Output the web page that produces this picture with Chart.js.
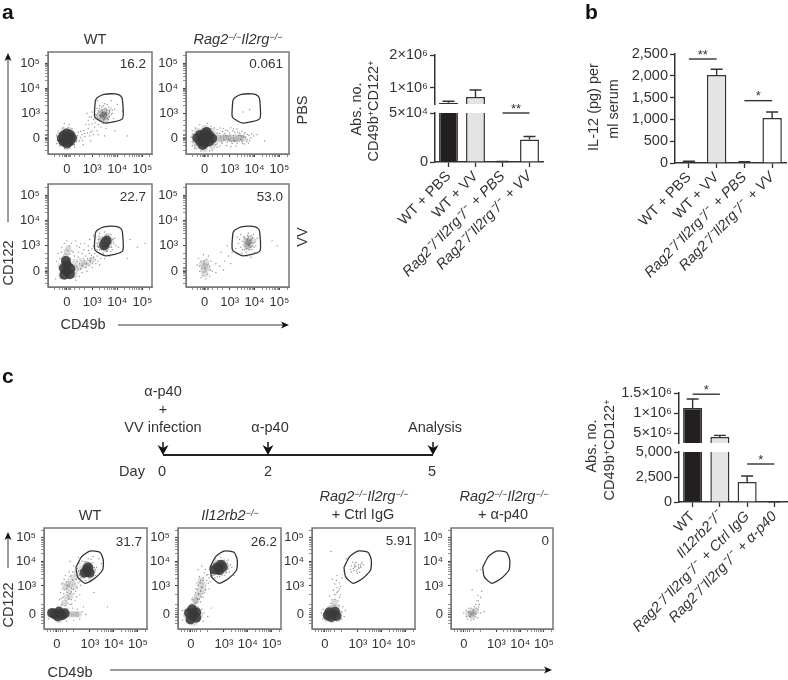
<!DOCTYPE html>
<html><head><meta charset="utf-8">
<style>
html,body{margin:0;padding:0;background:#fff;width:788px;height:680px;overflow:hidden}
canvas{position:absolute;left:0;top:0;pointer-events:none}
svg{position:absolute;left:0;top:0}
.t{position:absolute;white-space:nowrap;font-family:"Liberation Sans",Arial,sans-serif;color:#333;font-size:14.5px;line-height:1;transform:translate(-50%,-50%)}
.t sup{font-size:.62em;line-height:0;vertical-align:baseline;position:relative;top:-.45em}
.r{transform:translate(-100%,-50%);font-size:13.5px}
.v{transform:translate(-50%,-50%) rotate(-90deg)}
.L{transform:none;font-weight:bold;font-size:21px;color:#111}
</style>
<script src="https://cdn.jsdelivr.net/npm/chart.js@4/dist/chart.umd.min.js"></script>
</head><body>
<svg id="ov" width="788" height="680"></svg>
<script>
// ---------- flow-plot tick positions and labels ----------
const aMajor=[0,1,2,3];
const cMajorX=[0,1.37,2.37,3.37];
const cMajorY=[0,1.17,2.2,3.17];
const flowTickLabels=['0','10³','10⁴','10⁵'];
const aMinor=[-0.5,-0.3,-0.16,-0.1,-0.05,0.05,0.1,0.16,0.3,0.5,0.7,1.3,1.48,1.6,1.7,1.78,1.85,1.9,1.95,2.3,2.48,2.6,2.7,2.78,2.85,2.9,2.95,3.3];
const cMinorX=[-0.4,-0.25,-0.15,-0.08,0.08,0.15,0.25,0.4,0.7,1.67,1.85,1.97,2.07,2.15,2.22,2.28,2.33,2.67,2.85,2.97,3.07,3.15,3.22,3.28,3.33,3.67];
const cMinorY=[-0.4,-0.25,-0.15,-0.08,0.08,0.15,0.25,0.4,0.8,1.47,1.65,1.77,1.87,1.95,2.02,2.08,2.14,2.5,2.68,2.8,2.9,2.98,3.05,3.11,3.47];
// ---------- gates ----------
const gateA=[[1.13,1.52],[1.2,1.62],[1.47,1.75],[1.93,1.77],[2.15,1.68],[2.21,1.5],[2.21,0.79],[1.53,0.61],[1.11,0.85],[1.13,1.52]];
const gateC=[[0.79,1.94],[1.03,2.39],[1.37,2.62],[1.79,2.57],[1.93,2.25],[1.9,1.83],[1.58,1.49],[1.17,1.28],[0.86,1.55],[0.79,1.94]];
// ---------- panel a, flow plots ----------
const a1Core=[[-0.2,0],[0.2,0.02],[0,0.2],[0,-0.2],[-0.12,0.12],[0.12,-0.12],[0.12,0.14],[-0.14,-0.12],[0,0]];
const a1Mid=[[-0.3,0.12],[0.3,-0.05],[0.1,0.33],[-0.12,0.32],[0,-0.33],[1.45,0.95],[1.55,0.85],[1.4,0.8],[1.5,1.05],[1.35,1],[1.6,1.05],[1.47,0.92],[1.3,0.85],[1.55,0.75],[1.48,0.9],[1.42,0.98]];
const a1Speck=[[0.4,0.05],[0.5,-0.1],[0.6,0.15],[0.45,0.25],[-0.35,0.3],[-0.4,-0.2],[0.3,-0.35],[0.1,0.55],[-0.1,0.6],[0.7,0.2],[0.9,0.1],[1,0.3],[0.85,0.4],[1.1,0.45],[1.2,0.3],[1.25,0.55],[1.05,0.75],[0.9,0.85],[0.8,1],[1,1.05],[1.15,0.95],[1.2,1.2],[1.3,1.3],[1.45,1.3],[1.6,1.35],[1.75,1.2],[1.8,1],[1.9,1.15],[1.7,0.85],[1.85,0.8],[1.3,0.7],[1.45,0.6],[1.6,0.65],[1.35,0.45],[1.55,0.4],[0.95,-0.1],[1.5,0.1],[1.9,0.3],[2.4,0.1],[2.2,1.1],[1.2,1.5],[1.75,1.5],[2,1.35],[0.65,-0.25],[1.25,0.15],[0.75,0.55],[1.25,1.1],[1.3,0.9],[1.7,1.05],[1.65,0.75],[1.4,1.15],[1.55,1.2],[1.2,0.8],[1.1,1.1],
[1.2,0.85],[1.28,0.78],[1.33,0.92],[1.38,0.72],[1.42,0.88],[1.46,0.7],[1.5,0.78],[1.52,0.98],[1.58,0.92],[1.62,0.8],[1.66,0.98],[1.7,1.12],[1.58,1.12],[1.48,1.18],[1.36,1.12],[1.28,1.05],[1.22,1],[1.42,1.02],[1.34,0.84],[1.56,1.02],[1.44,0.76],[1.68,0.88],[1.76,0.95],[1.8,1.12],[1.5,1.38],[1.65,1.25],[1.38,1.25],[1.3,1.18],[1.18,0.92],[1.12,0.78],[-0.42,0.1],[-0.38,-0.08],[-0.3,0.2],[-0.28,-0.3],[-0.15,0.42],[0.05,0.45],[0.2,0.38],[0.32,0.22],[0.38,-0.12],[0.3,-0.25],[0.12,-0.38],[-0.1,-0.4],[0.42,0.12],[0.55,0.02],[0.62,-0.08],[0.72,0.08],[0.55,0.28],[0.68,0.32],[0.82,0.22],[0.95,0.25],[1.05,0.15],[0.88,0.55],[1,0.58],[1.12,0.62],[0.98,0.85],[0.85,0.72]];
const a2Core=[[-0.3,0.02],[-0.18,0.14],[-0.18,-0.12],[0,0.2],[0,-0.18],[0.18,0.12],[0.18,-0.12],[0.3,0],[0,0],[0.08,0.26],[-0.08,-0.26]];
const a2Mid=[[-0.42,0.08],[-0.38,-0.18],[0.42,0.12],[0.42,-0.15],[0,0.42],[0,-0.42],[0.55,0.02],[0.65,-0.05],[0.75,0.05],[0.85,0],[0.95,0.03],[1.05,0.02],[1.15,-0.04],[1.25,-0.02],[1.35,0.04],[1.45,0.02],[1.55,0],[-0.3,0.3],[0.3,0.3],[0.3,-0.32],[-0.3,-0.32]];
const a2Speck=[[0.6,0.2],[0.7,-0.2],[0.8,0.2],[0.9,-0.15],[1,0.22],[1.1,-0.2],[1.2,0.25],[1.3,-0.2],[1.4,0.22],[1.5,-0.12],[1.55,0.1],[1.65,0.05],[1.7,-0.05],[1.78,0.12],[1.85,0.02],[1.6,-0.22],[1.5,0.28],[1.95,0.1],[2.1,0.15],[0.5,0.35],[0.5,-0.35],[-0.5,0.3],[-0.5,-0.3],[-0.2,0.55],[0.1,0.6],[0.2,-0.5],[-0.15,-0.5],[0.75,0.4],[1.05,0.42],[1.3,0.38],[1.8,1.15],[1.55,1.05],[2.4,-0.1],[0.9,0.1],[1.15,0.12],[1.35,0.12],[1.2,-0.08],[1,-0.1],[0.75,0.1],[1.45,-0.05],[1.6,0.18],[1.75,-0.18],
[0.62,0.1],[0.68,-0.12],[0.72,0.28],[0.78,-0.06],[0.84,0.12],[0.88,-0.28],[0.92,0.3],[0.96,-0.05],[1.02,0.14],[1.06,-0.12],[1.12,0.3],[1.16,-0.1],[1.22,0.14],[1.28,-0.1],[1.32,0.25],[1.38,-0.12],[1.42,0.14],[1.48,0.1],[1.52,-0.2],[1.58,0.06],[1.62,0.24],[1.68,-0.12],[1.72,0.16],[1.8,-0.08],[1.88,0.18],[-0.55,0.05],[-0.5,-0.12],[-0.48,0.18],[0.5,0.22],[0.45,-0.25],[0.6,-0.3],[0.4,0.42],[-0.38,0.42],[-0.4,-0.4],[0.25,0.48],[0.3,-0.48],[0.85,0.34],[1.15,0.38],[1.25,-0.3],[1.05,-0.32],[0.62,0.42]];
const a3Core=[[-0.02,0],[0.12,-0.12],[-0.12,0.12],[0,0.25],[-0.1,-0.14],[0.14,0.1],[-0.04,0.4],[1.52,1.12],[1.58,1.2],[1.48,1.02]];
const a3Mid=[[1.5,1.15],[1.68,1.05],[1.38,1],[1.6,1.38],[1.35,1.22],[1.72,1.25],[1.55,0.88],[1.3,1.05],[-0.05,0.58],[0,0.75],[-0.12,0.48],[0.35,0.05],[0.5,0.15],[0.7,0.25],[0.85,0.35],[1,0.45],[0.6,0.35],[0.3,0.3],[1.53,1.25],[1.42,1.12],[0.05,0.9],[-0.25,0.2],[-0.22,-0.2],[0.3,-0.15]];
const a3Speck=[[-0.4,0.4],[-0.35,0.7],[-0.2,0.95],[-0.1,1.1],[0.1,1],[0.2,0.8],[0.3,0.6],[0.45,0.55],[0.6,0.7],[0.75,0.6],[0.9,0.7],[1,0.9],[0.85,1],[0.7,1.1],[0.5,0.95],[0.35,1.2],[0.9,1.25],[1.05,1.4],[1.2,0.6],[1.35,0.5],[1.15,0.3],[1,0.15],[0.8,0],[0.6,-0.05],[1.3,0.25],[1.5,0.5],[1.7,0.6],[1.8,0.85],[1.95,1],[1.9,1.3],[1.75,1.45],[1.5,1.55],[1.3,1.5],[1.15,1.35],[1.2,1.1],[1.3,0.85],[1.6,0.8],[1.75,1.1],[2.05,0.95],[2.5,1.25],[2.8,0.95],[3.1,1.1],[2.4,0.5],[-0.45,-0.3],[0.35,-0.35],[0.5,-0.2],[0.4,0.45],[0.15,0.5],[1.1,0.7],[1.05,1],[1.25,1.25],[1.85,1.15],[1.65,1.4],[1.4,1.35],[1.7,0.95],[1.25,0.95],[0.65,0.5],[0.95,0.5],[0.5,0.3],[0.75,0.15],[0.25,0.75],[0.45,0.75],
[0.2,0.25],[0.28,0.45],[0.38,0.2],[0.42,0.38],[0.55,0.1],[0.52,0.48],[0.62,0.22],[0.7,0.42],[0.78,0.3],[0.82,0.5],[0.88,0.22],[0.92,0.42],[1.02,0.3],[1.06,0.55],[1.14,0.45],[1.24,0.4],[0.98,0.62],[0.86,0.82],[0.68,0.85],[0.55,1.08],[0.4,1],[0.18,1.1],[0,1.2],[-0.22,0.75],[-0.28,0.5],[0.12,0.68],[1.22,0.98],[1.32,1.28],[1.38,0.85],[1.44,0.72],[1.5,1.3],[1.58,0.78],[1.62,0.98],[1.68,1.32],[1.78,0.95],[1.82,1.25],[1.45,0.9],[1.36,1.15],[1.64,1.12],[1.56,1.42],[1.28,1.38],[1.74,0.78],[1.46,0.66],[1.88,1.08],[1.2,0.85]];
const a4Core=[];
const a4Mid=[[0,0.2],[-0.05,0.05],[0.05,0.35],[-0.1,0.3],[0.1,0.12],[1.75,1.15],[1.85,1.05],[1.7,1],[1.8,1.3],[1.65,1.2],[1.75,0.95],[1.95,1.2],[0,-0.1],[1.78,1.2],[1.72,1.1]];
const a4Speck=[[-0.3,0.25],[-0.25,0.5],[0.25,0.4],[0.3,0],[0.2,-0.2],[-0.15,-0.25],[0.05,-0.3],[-0.05,0.65],[0.15,0.6],[0.45,0.3],[0.6,0.2],[0.8,0.4],[0.95,0.6],[1.1,0.75],[1.25,0.9],[1.35,1.1],[1.3,1.35],[1.45,1.45],[1.55,1.35],[1.6,0.85],[1.5,0.7],[1.7,0.6],[1.85,0.55],[2,0.75],[2.05,1],[2.1,1.3],[1.95,1.45],[1.75,1.5],[1.55,1.05],[1.45,0.95],[1.9,0.85],[2,1.15],[1.6,1.35],[1.85,1.4],[1.65,0.75],[2.7,1.2],[2.9,1],[0.75,0.05],[1.05,0.3],[0.9,1],[0.65,0.75],[0.45,-0.05],[-0.2,0],[0.2,0.2],[-0.15,0.4],[1.7,1.25],[1.8,1.1],[1.9,1],[1.6,1.15],[1.75,1.35],
[1.5,1.18],[1.58,0.98],[1.62,1.28],[1.68,0.9],[1.72,1.42],[1.78,0.85],[1.82,1.22],[1.88,1.12],[1.92,1.32],[1.98,0.95],[1.66,1.08],[1.76,1.02],[1.84,0.95],[1.4,1.25],[1.52,0.85],[-0.12,0.12],[0.14,0.28],[0.22,0.05],[-0.2,0.2],[0.08,0.48],[-0.08,-0.18],[0.12,-0.12],[-0.02,0.42]];
// ---------- panel c, flow plots ----------
const c1Core=[[-0.1,0],[0.08,0.1],[0.22,-0.05],[0.03,-0.1],[-0.2,0.05],[0.32,0.03],[0.12,0],[1.24,1.85],[1.36,1.72],[1.15,1.72],[1.3,1.95],[1.26,1.78]];
const c1Mid=[[0.42,0],[0.55,-0.02],[0.68,0],[0.8,-0.02],[0.9,0],[-0.28,0],[0.1,0.25],[0.1,-0.25],[1.02,1.9],[1.48,1.85],[1.06,1.62],[1.42,1.52],[1.2,2.08],[0.82,1.7],[0.4,0.7],[0.5,1],[0.6,1.3],[0.35,1.15],[0.7,1.5],[0.3,0.45],[0.45,1.25],[0.55,0.75],[0.72,1.15]];
const c1Speck=[[0.2,0.4],[0.25,0.7],[0.15,0.9],[0.3,1],[0.45,0.45],[0.6,0.6],[0.7,0.85],[0.55,0.85],[0.4,1.35],[0.55,1.55],[0.3,1.45],[0.85,1.1],[0.95,1.35],[0.75,1.3],[0.85,1.9],[0.95,2.1],[0.7,2],[1.05,2.2],[1.3,2.3],[1.5,2.15],[1.65,1.95],[1.6,1.6],[1.4,1.35],[1.2,1.4],[1,1.5],[0.5,1.75],[0.35,1.6],[0.2,1.25],[0.1,0.6],[0.65,0.25],[0.85,0.2],[1.05,0.1],[1.2,-0.02],[1.1,0.3],[0.95,-0.2],[0.7,-0.25],[0.4,-0.3],[0.45,0.25],[-0.35,0.15],[-0.35,-0.2],[0.6,1.1],[0.45,1.2],[0.25,1.3],[0.65,1.75],[0.95,0.8],[0.75,0.55],[1.75,2.3],[1.85,2.1],[1.5,2.4],[0.9,2.35],[0.55,2.2],[2.1,0.3],[1.55,0.9],[0.35,0.35],[0.55,0.4],
[0.28,0.85],[0.38,0.55],[0.42,0.9],[0.5,0.62],[0.52,1.15],[0.6,0.92],[0.65,1.42],[0.68,1.02],[0.78,0.95],[0.8,1.45],[0.88,1.3],[0.92,1.6],[0.98,1.2],[0.58,1.62],[0.48,1.45],[0.38,1.05],[0.22,1.05],[0.18,0.65],[0.62,0.42],[0.82,0.72],[1.02,1.78],[1.1,2.02],[1.18,2.18],[1.4,2.08],[1.55,1.95],[1.58,1.75],[1.5,1.6],[1.3,1.55],[1.12,1.5],[0.95,1.65],[0.9,1.8],[1.6,1.85],[1.42,2.28],[1.22,2.02],[1.38,1.98]];
const c2Core=[[0.08,-0.07],[-0.08,0.05],[0.22,0.08],[0.05,0.2],[0.22,-0.15],[-0.02,-0.22],[0.1,0.02],[1.1,1.95],[1.25,2.05],[1,1.85],[1.18,1.82],[1.32,1.95]];
const c2Mid=[[-0.2,-0.05],[0.38,-0.05],[0.1,0.36],[0.12,-0.35],[0.22,0.55],[0.35,0.9],[0.4,1.2],[0.95,1.72],[1.42,2.12],[1.38,1.8],[1.02,2.15],[1.48,1.98],[0.5,1.05],[0.3,0.75],[0.42,1.4],[0.15,0.62]];
const c2Speck=[[0.3,0.3],[0.45,0.2],[0.55,0.05],[0.7,-0.1],[0.4,0.5],[0.5,0.7],[0.55,0.9],[0.6,1.2],[0.65,1.4],[0.5,1.4],[0.35,1.55],[0.25,1.3],[0.2,1.05],[0.15,0.8],[0.05,0.6],[0.75,1.05],[0.8,1.35],[0.7,1.65],[0.6,1.85],[0.45,2],[0.3,1.85],[0.85,2],[0.95,2.1],[1,2.3],[1.25,2.35],[1.55,2.25],[1.65,2.05],[1.6,1.75],[1.4,1.6],[1.2,1.55],[1,1.5],[0.9,1.6],[1.7,1.95],[1.8,1.6],[-0.35,0.15],[-0.35,-0.25],[0.5,-0.3],[0.85,0.25],[0.3,1.05],[0.4,0.95],[0.5,1.25],[0.62,1],[0.4,1.4],[0.75,1.5],[0.2,0.45],[0.28,0.62],
[0.18,0.9],[0.25,0.5],[0.32,0.85],[0.35,0.62],[0.42,0.72],[0.45,1.12],[0.48,0.85],[0.52,1.5],[0.58,1.3],[0.3,1.2],[0.25,1.02],[0.38,1.3],[0.92,1.85],[0.88,1.72],[1.05,2.05],[1.12,1.68],[1.22,1.7],[1.3,2.18],[1.12,2.22],[1.38,2.25],[1.5,2.1],[1.55,1.88],[1.48,1.72],[1.3,1.62],[1.1,1.55],[0.78,1.85],[0.82,1.58],[0.65,1.62],[0.55,1.72],[0.72,1.28]];
const c3Core=[[0.3,0],[0.42,0.1],[0.18,0.08],[0.48,-0.08],[0.26,-0.12],[0.36,-0.02],[0.12,-0.06]];
const c3Mid=[[0.02,0],[0.6,0.02],[0.35,0.28],[0.3,-0.25],[0.22,0.25],[0.48,0.28],[0.4,0.48],[0.55,-0.2],[0.08,-0.2]];
const c3Speck=[[0.7,0.1],[0.8,-0.1],[-0.08,0.2],[-0.1,-0.2],[0.6,0.35],[0.55,0.55],[0.3,0.6],[0.45,0.8],[0.35,1],[0.5,1.1],[0.6,1.3],[0.4,1.25],[0.3,1.45],[0.55,0.95],[0.65,0.8],[0.7,1.5],[0.5,1.6],[0.8,1.75],[1.1,2],[1.25,1.95],[1.4,2.05],[1.35,1.85],[1.2,1.8],[1.5,1.95],[1.55,2.15],[1.3,2.15],[1.15,2.15],[1.45,1.75],[1.05,1.85],[1.6,2.05],[1.3,2],[1.4,1.95],[0.9,2.3],[0.25,2.6],[0.6,0.7],[1.25,2.08],[1.5,2.08],[1.35,1.7],[0.2,0.75],[0.75,0.3],[0.42,0.62],[0.5,0.9],[0.38,0.82],[0.6,1.05],[0.48,1.4],[0.65,1.15],[0.25,0.45],[0.7,-0.2],[0.85,0.15],[-0.15,0.05],[1.18,1.9],[1.32,1.78],[1.42,1.9],[1.48,2],[1.22,2],[1.1,1.75]];
const c4Core=[];
const c4Mid=[[0.3,0],[0.42,0.03],[0.2,0],[0.5,0.12],[0.35,-0.08],[0.32,0.12]];
const c4Speck=[[0,0.05],[0.1,-0.1],[0.1,0.15],[0.6,0.2],[0.7,0.05],[0.5,0.4],[0.55,0.55],[0.7,0.7],[0.45,0.3],[0.3,0.25],[0.6,-0.15],[0.3,-0.25],[0.2,0.25],[0.65,0.4],[0.75,0.95],[0.35,1],[0.55,1.8],[0.7,1.85],[0.62,0.3],[0.85,0.1],[0.15,-0.2],[0.42,-0.22],[0.5,-0.12],[0.62,0.55],[0.58,0.78],[0.18,0.1],[0.25,-0.12],[0.4,0.18],[0.52,0.25],[0.48,0.02]];
// ---------- bar charts ----------
const catAB=['WT + PBS','WT + VV','Rag2⁻/⁻Il2rg⁻/⁻\u2002+ PBS','Rag2⁻/⁻Il2rg⁻/⁻\u2002+ VV'];
const catC=['WT','Il12rb2⁻/⁻','Rag2⁻/⁻Il2rg⁻/⁻\u2002+ Ctrl IgG','Rag2⁻/⁻Il2rg⁻/⁻\u2002+ α-p40'];
const barFill=['#231f20','#e4e4e4','#ffffff','#ffffff'];
const aValues=[550000,730000,300,23000];
const aErrors=[600000,940000,500,26000];
const aLowTicks=[0,50000],aLowLabels=['0','5×10⁴'];
const aHighTicks=[1000000,2000000],aHighLabels=['1×10⁶','2×10⁶'];
const bValues=[25,2020,20,1030];
const bErrors=[40,2150,32,1170];
const bTicks=[0,500,1000,1500,2000,2500],bLabels=['0','500','1,000','1,500','2,000','2,500'];
const cValues=[1125000,400000,2000,20];
const cErrors=[1350000,440000,2600,30];
const cLowTicks=[0,2500,5000],cLowLabels=['0','2,500','5,000'];
const cHighTicks=[500000,1000000,1500000],cHighLabels=['5×10⁵','1×10⁶','1.5×10⁶'];

const FONT='"Liberation Sans",Arial,sans-serif',INK='#333',GREY='#777';
const W=788,H=680;
function canvas(){const c=document.createElement('canvas');c.width=W;c.height=H;document.body.appendChild(c);return c;}
const framePlugin={id:'frame',afterDraw(ch){const a=ch.chartArea,x=ch.ctx;x.save();x.strokeStyle=GREY;x.lineWidth=1.5;x.strokeRect(a.left,a.top,a.right-a.left,a.bottom-a.top);x.restore();}};
function flow(L,R,T,B,xr,yr,xMajor,yMajor,xMinor,yMinor,gate,core,mid,speck){
 const sc=(r,maj,min,pos)=>({type:'linear',min:r[0],max:r[1],
  afterBuildTicks(s){s.ticks=[...maj,...min].sort((p,q)=>p-q).map(v=>({value:v}));},
  afterFit(s){if(pos==='x'){s.height=26;s.paddingLeft=0;s.paddingRight=0;}else{s.width=40;s.paddingTop=0;s.paddingBottom=0;}},
  border:{color:GREY,width:1},
  grid:{drawOnChartArea:false,drawTicks:true,tickLength:3,tickColor:'#444',tickWidth:c=>maj.includes(c.tick.value)?1.1:.6},
  ticks:{autoSkip:false,maxRotation:0,minRotation:0,padding:5,color:INK,font:{family:FONT,size:13},
   callback:v=>{const i=maj.indexOf(v);return i<0?'':flowTickLabels[i];}}});
 new Chart(canvas(),{type:'scatter',plugins:[framePlugin],
  data:{datasets:[
   {data:mid,pointRadius:3.2,pointBorderWidth:0,pointBackgroundColor:'rgba(80,80,80,.2)'},
   {data:core,pointRadius:5,pointBorderWidth:0,pointBackgroundColor:'rgba(58,58,58,.9)'},
   {data:speck,pointRadius:.7,pointBorderWidth:0,pointBackgroundColor:'rgba(70,70,70,.6)'},
   {data:gate,showLine:true,pointRadius:0,borderColor:'#333',borderWidth:1.3,tension:.2,fill:false}]},
  options:{responsive:false,animation:false,events:[],
   layout:{padding:{left:L-40,right:W-R,top:T,bottom:H-B-26}},
   plugins:{legend:{display:false},tooltip:{enabled:false}},
   scales:{x:sc(xr,xMajor,xMinor,'x'),y:sc(yr,yMajor,yMinor,'y')}}});
}
const errSig={id:'errSig',afterDatasetsDraw(ch,_,o){const x=ch.ctx,xs=ch.scales.x,ys=ch.scales.y;x.save();x.strokeStyle=INK;x.lineWidth=1.4;
 (o.errors||[]).forEach((e,i)=>{const v=o.values[i];if(e>ys.max||v<ys.min)return;const px=xs.getPixelForValue(i),p0=ys.getPixelForValue(v),p1=ys.getPixelForValue(e);
  x.beginPath();x.moveTo(px,p0);x.lineTo(px,p1);x.moveTo(px-6,p1);x.lineTo(px+6,p1);x.stroke();});
 (o.sig||[]).forEach(s=>{const a=xs.getPixelForValue(s[0]),b=xs.getPixelForValue(s[1]),p=ys.getPixelForValue(s[2]);
  x.beginPath();x.moveTo(a,p);x.lineTo(b,p);x.stroke();
  x.fillStyle=INK;x.font='13px '+FONT;x.textAlign='center';x.textBaseline='middle';x.fillText(s[3],(a+b)/2,p-4);});
 x.restore();}};
function bar(L,R,T,B,cats,values,errors,min,max,ticks,labels,showX,sig){
 new Chart(canvas(),{type:'bar',plugins:[errSig],
  data:{labels:cats,datasets:[{data:values,backgroundColor:barFill,borderColor:'#333',borderWidth:1.5,barPercentage:.7,categoryPercentage:1}]},
  options:{responsive:false,animation:false,events:[],
   layout:{padding:{left:L-60,right:W-R,top:T,bottom:H-B-(showX?150:0)}},
   plugins:{legend:{display:false},tooltip:{enabled:false},errSig:{values,errors,sig}},
   scales:{
    x:{display:showX,offset:true,border:{color:INK,width:1.5},
     afterFit(s){s.height=showX?150:0;s.paddingLeft=0;s.paddingRight=0;},
     grid:{drawOnChartArea:false,offset:false,tickLength:5,tickColor:INK,tickWidth:1.3},
     ticks:{autoSkip:false,minRotation:46,maxRotation:46,padding:1,color:INK,
      font:c=>({family:FONT,size:14.5,style:/⁻/.test(cats[c.index])?'italic':'normal'})}},
    y:{min,max,border:{color:INK,width:1.5},
     afterBuildTicks(s){s.ticks=ticks.map(v=>({value:v}));},
     afterFit(s){s.width=60;s.paddingTop=0;s.paddingBottom=0;},
     grid:{drawOnChartArea:false,tickLength:5,tickColor:INK,tickWidth:1.3},
     ticks:{autoSkip:false,padding:2,color:INK,font:{family:FONT,size:14.5},callback:v=>labels[ticks.indexOf(v)]}}}}});
}
const AX=[-0.75,3.38],AY=[-0.62,3.44],CX=[-0.54,3.75],CY=[-0.62,3.58];
flow(48,152,52,154,AX,AY,aMajor,aMajor,aMinor,aMinor,gateA,a1Core,a1Mid,a1Speck);
flow(186,289,52,154,AX,AY,aMajor,aMajor,aMinor,aMinor,gateA,a2Core,a2Mid,a2Speck);
flow(48,152,184,287,AX,AY,aMajor,aMajor,aMinor,aMinor,gateA,a3Core,a3Mid,a3Speck);
flow(186,289,184,287,AX,AY,aMajor,aMajor,aMinor,aMinor,gateA,a4Core,a4Mid,a4Speck);
flow(44,147,528,629,CX,CY,cMajorX,cMajorY,cMinorX,cMinorY,gateC,c1Core,c1Mid,c1Speck);
flow(178,281,528,629,CX,CY,cMajorX,cMajorY,cMinorX,cMinorY,gateC,c2Core,c2Mid,c2Speck);
flow(312,415,528,629,CX,CY,cMajorX,cMajorY,cMinorX,cMinorY,gateC,c3Core,c3Mid,c3Speck);
flow(451,553,528,629,CX,CY,cMajorX,cMajorY,cMinorX,cMinorY,gateC,c4Core,c4Mid,c4Speck);
bar(435,543,113,162,catAB,aValues,aErrors,0,50000,aLowTicks,aLowLabels,true,[[2,3,50000,'**']]);
bar(435,543,55,104,catAB,aValues,aErrors,515000,2000000,aHighTicks,aHighLabels,false,[]);
bar(675,786,54,163,catAB,bValues,bErrors,0,2500,bTicks,bLabels,true,[[0,1,2385,'**'],[2,3,1430,'*']]);
bar(679,788,452,502,catC,cValues,cErrors,0,5000,cLowTicks,cLowLabels,true,[[2,3,3800,'*']]);
bar(679,788,393,443,catC,cValues,cErrors,250000,1500000,cHighTicks,cHighLabels,false,[[0,1,1470000,'*']]);

// ---------- annotation text ----------
const RG='<i>Rag2<sup>−/−</sup>Il2rg<sup>−/−</sup></i>';
const textItems=[
 ['L',2,1,'a'],['L',585,1,'b'],['L',2,365,'c'],
 ['',95,39,'WT'],['',238,39,RG],['v',302,110,'PBS'],['v',302,237,'VV'],['v',8,263,'CD122'],['',83,324,'CD49b'],
 ['r',146,64,'16.2'],['r',283,64,'0.061'],['r',146,197,'22.7'],['r',283,197,'53.0'],
 ['v',356,109,'Abs. no.'],['v',373,111,'CD49b<sup>+</sup>CD122<sup>+</sup>'],
 ['v',593,107,'IL-12 (pg) per'],['v',613,109,'ml serum'],
 ['',132,471,'Day'],['',162,471,'0'],['',268,471,'2'],['',432,471,'5'],
 ['',163,391,'α-p40'],['',163,409,'+'],['',163,427,'VV infection'],['',270,427,'α-p40'],['',435,427,'Analysis'],
 ['',90,515,'WT'],['',230,515,'<i>Il12rb2<sup>−/−</sup></i>'],['',364,496,RG],['',363,514,'+ Ctrl IgG'],['',504,496,RG],['',503,514,'+ α-p40'],
 ['r',142,542,'31.7'],['r',277,542,'26.2'],['r',412,541,'5.91'],['r',549,541,'0'],
 ['v',8,605,'CD122'],['',70,672,'CD49b'],
 ['v',591,446,'Abs. no.'],['v',609,450,'CD49b<sup>+</sup>CD122<sup>+</sup>']
];
textItems.forEach(([c,x,y,h])=>{const d=document.createElement('div');d.className='t '+c;d.style.left=x+'px';d.style.top=y+'px';d.innerHTML=h;document.body.appendChild(d);});
// ---------- schematic lines and arrows ----------
const lines=[[118,325,287,325,.9],[8,222,8,55,.9],[8,568,8,534,.9],[110,670,550,670,.9],[163,455,433,455,2]];
const heads=[[289,325,'r'],[8,53,'u'],[8,532,'u'],[552,670,'r'],[163,455,'d'],[268,455,'d'],[433,455,'d']];
const drops=[[163,442,163,450,1.6],[268,442,268,450,1.6],[433,442,433,450,1.6]];
let s='';
[...lines,...drops].forEach(l=>s+=`<line x1="${l[0]}" y1="${l[1]}" x2="${l[2]}" y2="${l[3]}" stroke="#222" stroke-width="${l[4]}"/>`);
heads.forEach(([x,y,d])=>{const p=d==='r'?`${x},${y} ${x-8},${y-3.5} ${x-6},${y} ${x-8},${y+3.5}`:d==='u'?`${x},${y} ${x-3.5},${y+8} ${x},${y+6} ${x+3.5},${y+8}`:`${x},${y} ${x-5.5},${y-10} ${x},${y-7} ${x+5.5},${y-10}`;s+=`<polygon points="${p}" fill="#111"/>`;});
document.getElementById('ov').innerHTML=s;
</script></body></html>
